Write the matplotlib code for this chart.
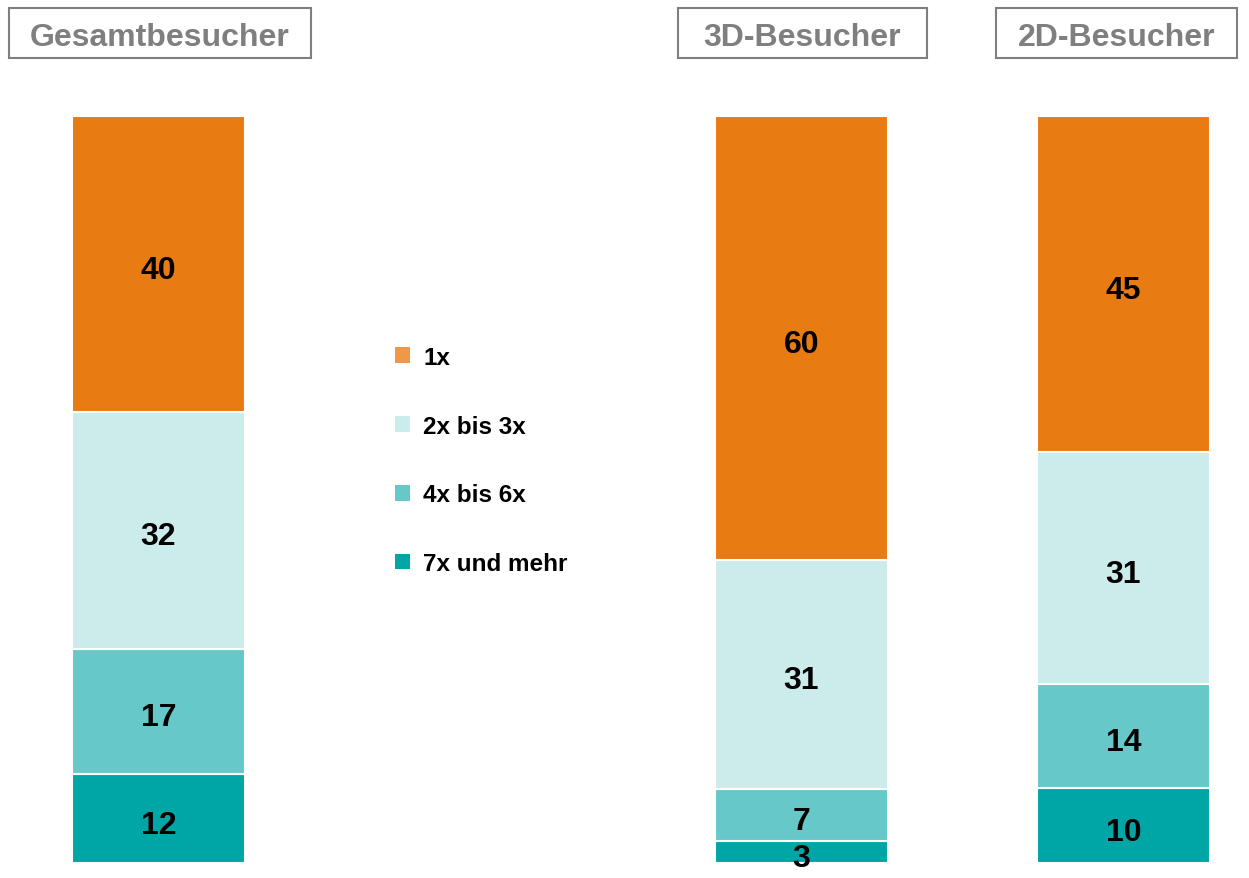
import numpy as np
import matplotlib.pyplot as plt
from matplotlib.patches import Patch

plt.rcParams['font.family'] = ['Liberation Sans', 'DejaVu Sans']

# data: share of visitors by number of visits
groups = ['Gesamtbesucher', '3D-Besucher', '2D-Besucher']
categories = ['1x', '2x bis 3x', '4x bis 6x', '7x und mehr']
values = {
    '1x': [40, 60, 45],
    '2x bis 3x': [32, 31, 31],
    '4x bis 6x': [17, 7, 14],
    '7x und mehr': [12, 3, 10],
}
bar_colors = ['#E97B13', '#CCECEC', '#66C8C8', '#00A5A5']
legend_colors = ['#F09848', '#CCECEC', '#66C8C8', '#00A5A5']

W, H = 1249, 879
fig = plt.figure(figsize=(W / 100, H / 100), dpi=100)
# axes spans the bar area vertically
y_top, y_bot = 117, 864
ax = fig.add_axes([0, (H - y_bot) / H, 1, (y_bot - y_top) / H])
ax.set_xlim(0, W)
ax.set_ylim(0, 100)
ax.axis('off')

xpos = [158.5, 801.5, 1123.5]
bar_w = 173

totals = np.zeros(len(groups))
for c in categories:
    totals += np.array(values[c])

# stack from bottom: 7x und mehr first, then up to 1x
bottom = np.zeros(len(groups))
for c, col in reversed(list(zip(categories, bar_colors))):
    v = np.array(values[c])
    h = v / totals * 100
    ax.bar(xpos, h, bar_w, bottom=bottom, color=col, edgecolor='white', linewidth=1.5)
    for x, b, hh, raw in zip(xpos, bottom, h, v):
        ax.text(x, b + hh / 2 - 0.8, str(raw), ha='center', va='center',
                fontsize=23, fontweight='bold', color='black')
    bottom += h

# boxed titles
title_boxes = [(9, 311), (678, 927), (996, 1237)]
for name, (x0, x1) in zip(groups, title_boxes):
    fig.text((x0 + x1) / 2 / W, 1 - 38 / H, name, ha='center', va='center',
             fontsize=23, fontweight='bold', color='#7F7F7F')
    fig.patches.append(plt.Rectangle((x0 / W, 1 - 59 / H), (x1 - x0) / W, 50 / H,
                                     transform=fig.transFigure, fill=False,
                                     edgecolor='#7F7F7F', linewidth=1.5))

handles = [Patch(facecolor=c, edgecolor='none') for c in legend_colors]
leg = fig.legend(handles, categories, loc='upper left',
                 bbox_to_anchor=(373 / W, 1 - 325 / H), frameon=False,
                 prop={'size': 17.5, 'weight': 'bold'},
                 handlelength=0.62, handleheight=0.62, handletextpad=0.55,
                 labelspacing=1.88)

fig.savefig('out.png', dpi=100)
